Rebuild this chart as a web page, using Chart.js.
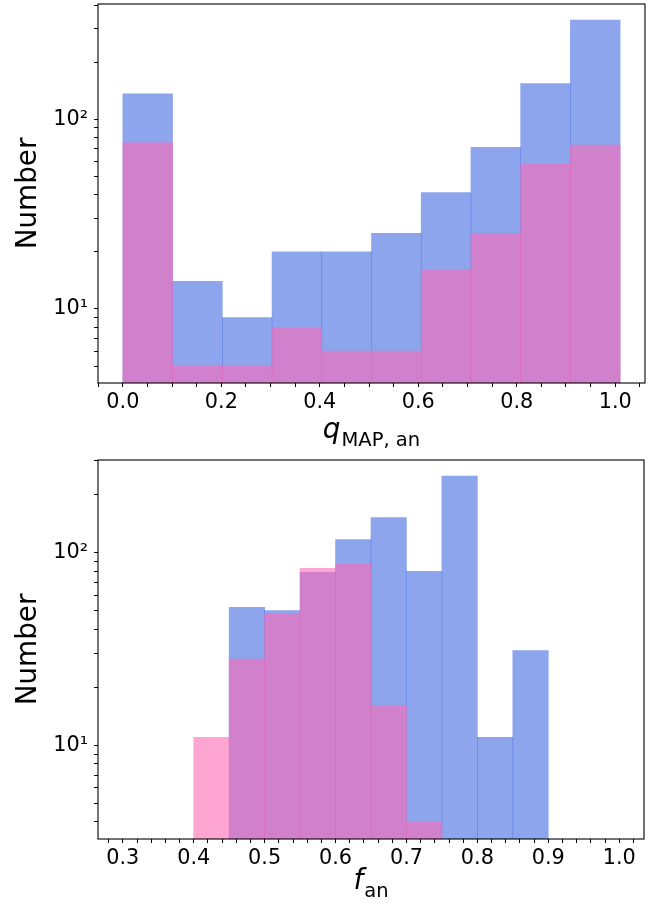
<!DOCTYPE html>
<html>
<head>
<meta charset="utf-8">
<script src="https://cdn.jsdelivr.net/npm/chart.js@4"></script>
<style>
  html, body { margin: 0; padding: 0; background: #ffffff; }
  canvas { display: block; }
</style>
</head>
<body>
<canvas id="c1" width="656" height="453"></canvas>
<canvas id="c2" width="656" height="453"></canvas>
<script>
// ---------- data ----------
const qBinEdges = [0.0, 0.101, 0.202, 0.303, 0.404, 0.505, 0.606, 0.707, 0.808, 0.909, 1.01];
const qCountsAll = [136, 14, 9, 20, 20, 25, 41, 71, 154, 333];
const qCountsSel = [75, 5, 5, 8, 6, 6, 16, 25, 58, 73];

const fBinEdgesAll = [0.45, 0.50, 0.55, 0.60, 0.65, 0.70, 0.75, 0.80, 0.85, 0.90];
const fCountsAll = [52, 50, 79, 117, 152, 80, 250, 11, 31];
const fBinEdgesSel = [0.40, 0.45, 0.50, 0.55, 0.60, 0.65, 0.70, 0.75];
const fCountsSel = [11, 28, 48, 83, 87, 16, 4];

const qTickValues = [0.0, 0.2, 0.4, 0.6, 0.8, 1.0];
const qTickLabels = ['0.0', '0.2', '0.4', '0.6', '0.8', '1.0'];
const fTickValues = [0.3, 0.4, 0.5, 0.6, 0.7, 0.8, 0.9, 1.0];
const fTickLabels = ['0.3', '0.4', '0.5', '0.6', '0.7', '0.8', '0.9', '1.0'];
const yTickValues = [10, 100];
const yTickLabels = ['10\u00B9', '10\u00B2'];

// ---------- helpers ----------
const BLUE = 'rgba(65,105,225,0.6)';
const PINK = 'rgba(255,105,180,0.6)';
const FONT = '"DejaVu Sans", sans-serif';
Chart.defaults.font.family = FONT;
Chart.defaults.color = '#000';

function histPoints(edges, counts) {
  return counts.map((c, i) => ({ x: (edges[i] + edges[i + 1]) / 2, y: c }));
}
function stepTicks(lo, hi, step) {
  const out = [];
  const i0 = Math.ceil(lo / step - 1e-9), i1 = Math.floor(hi / step + 1e-9);
  for (let i = i0; i <= i1; i++) out.push({ value: Math.round(i * step * 1e6) / 1e6 });
  return out;
}
function logTicks(lo, hi) {
  const out = [];
  for (let d = 1; d <= 1000; d *= 10) {
    for (let m = 1; m <= 9; m++) {
      const v = m * d;
      if (v >= lo && v <= hi) out.push({ value: v });
    }
  }
  return out;
}
function labelFor(values, labels) {
  return (v) => {
    const i = values.findIndex(t => Math.abs(t - v) < 1e-6);
    return i >= 0 ? labels[i] : '';
  };
}
function noPad(s) { s.paddingTop = 0; s.paddingBottom = 0; s.paddingLeft = 0; s.paddingRight = 0; }

const framePlugin = {
  id: 'frame',
  afterDatasetsDraw(chart) {
    const { ctx, chartArea: a } = chart;
    ctx.save();
    ctx.strokeStyle = '#000';
    ctx.lineWidth = 1.1;
    ctx.strokeRect(a.left, a.top, a.right - a.left, a.bottom - a.top);
    ctx.restore();
  }
};

const mathLabelPlugin = {
  id: 'mathLabel',
  afterDraw(chart, args, opts) {
    const { ctx, chartArea: a } = chart;
    const mainFont = 'italic 27.8px ' + FONT;
    const subFont = '19.5px ' + FONT;
    ctx.save();
    ctx.font = mainFont; const w1 = ctx.measureText(opts.main).width;
    ctx.font = subFont; const w2 = ctx.measureText(opts.sub).width;
    const gap = opts.gap;
    const cx = (a.left + a.right) / 2;
    const x = cx - (w1 + gap + w2) / 2;
    const y = a.bottom + opts.offset;
    ctx.fillStyle = '#000';
    ctx.textAlign = 'left';
    ctx.textBaseline = 'alphabetic';
    ctx.font = mainFont; ctx.fillText(opts.main, x, y);
    ctx.font = subFont; ctx.fillText(opts.sub, x + w1 + gap, y + opts.drop);
    ctx.restore();
  }
};

function makeChart(id, cfg) {
  const xTickCfg = {
    autoSkip: false, maxRotation: 0, minRotation: 0, padding: 3,
    color: '#000', font: { size: 20.8 },
    callback: labelFor(cfg.xTickValues, cfg.xTickLabels)
  };
  return new Chart(document.getElementById(id), {
    type: 'bar',
    data: {
      datasets: [
        { label: 'selected', data: histPoints(cfg.selEdges, cfg.selCounts),
          backgroundColor: PINK, xAxisID: 'xb', yAxisID: 'y', order: 0 },
        { label: 'all', data: histPoints(cfg.allEdges, cfg.allCounts),
          backgroundColor: BLUE, xAxisID: 'xb', yAxisID: 'y', order: 1 }
      ]
    },
    options: {
      responsive: false,
      animation: false,
      events: [],
      layout: { padding: { top: cfg.padTop, right: cfg.padRight, left: 0, bottom: 0 } },
      plugins: {
        legend: { display: false },
        tooltip: { enabled: false },
        mathLabel: cfg.mathLabel
      },
      datasets: {
        bar: { grouped: false, barPercentage: 1, categoryPercentage: 1, borderWidth: 0 }
      },
      scales: {
        xb: {
          type: 'linear', display: false, offset: false, grid: { offset: false },
          min: cfg.xMin, max: cfg.xMax,
          afterBuildTicks: (s) => { s.ticks = []; },
          afterFit: noPad
        },
        x: {
          type: 'linear', position: 'bottom', offset: false,
          min: cfg.xMin, max: cfg.xMax,
          afterBuildTicks: (s) => { s.ticks = stepTicks(cfg.xMin, cfg.xMax, cfg.xMinorStep); },
          afterFit: (s) => { s.height = cfg.xAxisHeight; noPad(s); },
          ticks: xTickCfg,
          grid: { offset: false, drawOnChartArea: false, drawTicks: true, tickLength: 4, color: '#000', tickWidth: 1 },
          border: { display: false },
          title: { display: false }
        },
        y: {
          type: 'logarithmic', position: 'left', min: cfg.yMin, max: cfg.yMax,
          afterBuildTicks: (s) => { s.ticks = logTicks(cfg.yMin, cfg.yMax); },
          afterFit: (s) => { s.width = 98; noPad(s); },
          ticks: {
            autoSkip: false, padding: 6, color: '#000', font: { size: 20.8 },
            callback: labelFor(yTickValues, yTickLabels)
          },
          grid: { drawOnChartArea: false, drawTicks: true, tickLength: 4, color: '#000', tickWidth: 1 },
          border: { display: false },
          title: {
            display: true, text: 'Number', color: '#000',
            font: { size: 27.8 }, padding: { top: 12, bottom: 0 }
          }
        }
      }
    },
    plugins: [framePlugin, mathLabelPlugin]
  });
}

makeChart('c1', {
  allEdges: qBinEdges, allCounts: qCountsAll,
  selEdges: qBinEdges, selCounts: qCountsSel,
  xMin: -0.0505, xMax: 1.0605, xMinorStep: 0.05,
  xTickValues: qTickValues, xTickLabels: qTickLabels,
  yMin: 4.07, yMax: 405,
  padTop: 4, padRight: 11, xAxisHeight: 70,
  mathLabel: { main: 'q', sub: 'MAP, an', offset: 55, drop: 8.3, gap: 1 }
});

makeChart('c2', {
  allEdges: fBinEdgesAll, allCounts: fCountsAll,
  selEdges: fBinEdgesSel, selCounts: fCountsSel,
  xMin: 0.265, xMax: 1.035, xMinorStep: 0.02,
  xTickValues: fTickValues, xTickLabels: fTickLabels,
  yMin: 3.26, yMax: 303,
  padTop: 7, padRight: 12, xAxisHeight: 67,
  mathLabel: { main: 'f', sub: 'an', offset: 49.5, drop: 8.5, gap: 1 }
});
</script>
</body>
</html>
